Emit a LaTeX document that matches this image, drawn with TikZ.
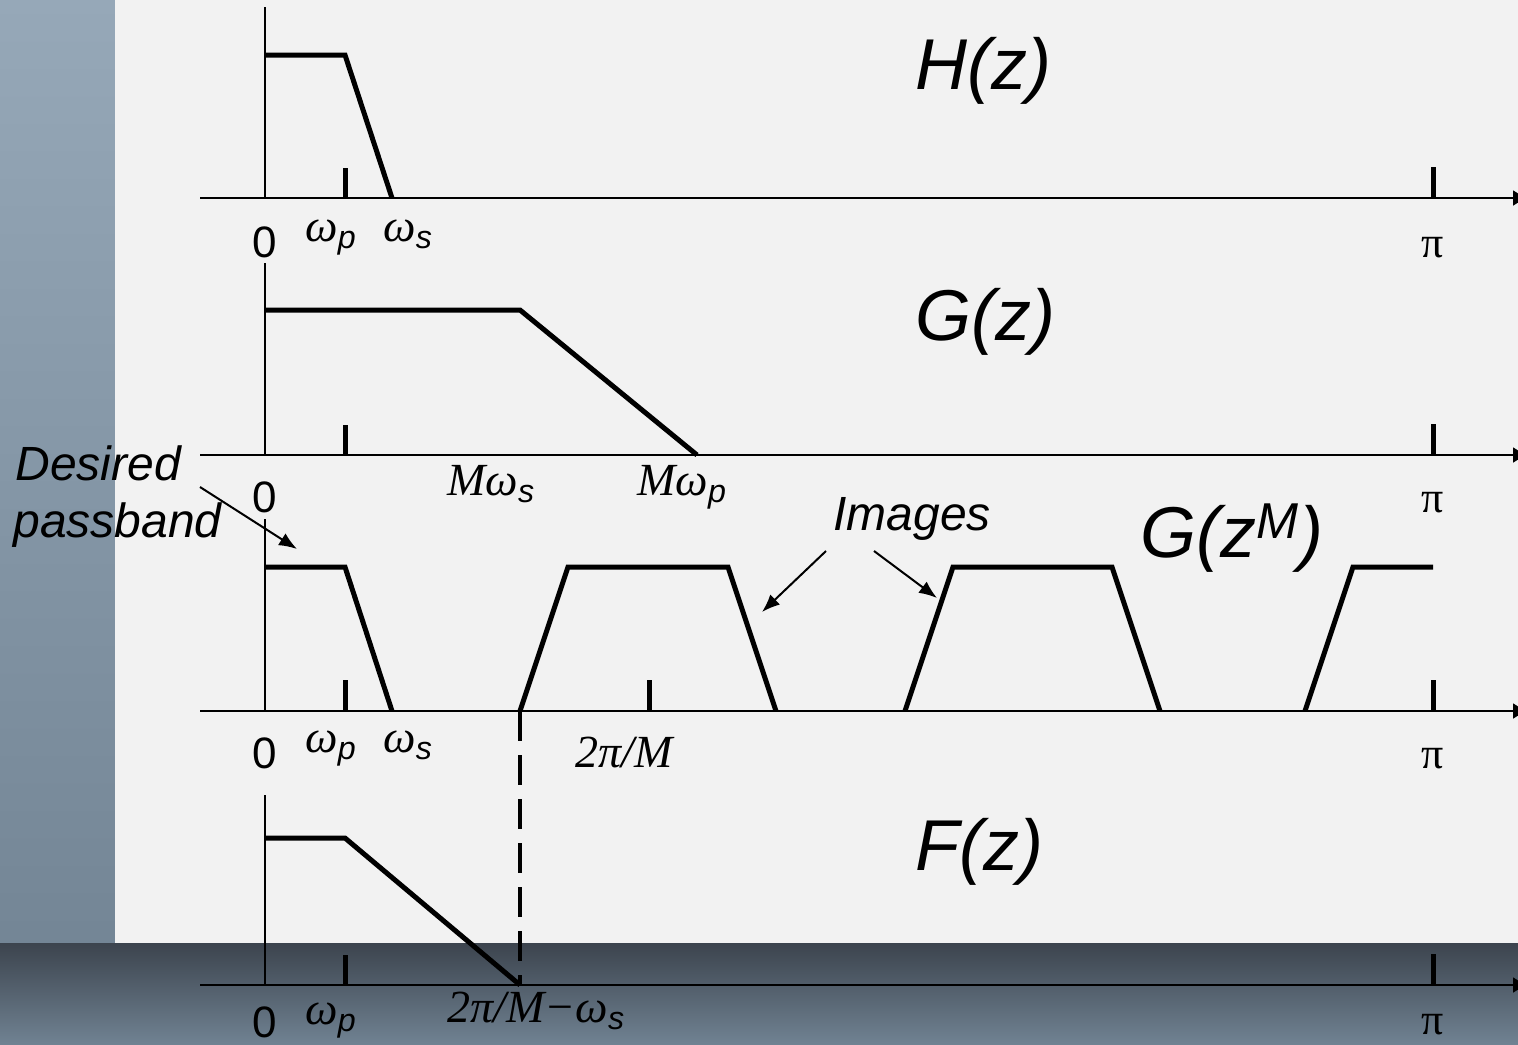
\documentclass[tikz,border=0pt]{standalone}
\usepackage{fontspec}
\setmainfont{Liberation Sans}
\newfontfamily\tmsfont{Liberation Serif}
\usepackage{tikz}
\usepackage{xcolor}
\usetikzlibrary{arrows.meta,positioning,calc}

\definecolor{bgtop}{RGB}{150,168,184}
\definecolor{bgbot}{RGB}{112,130,146}
\definecolor{shadowc}{RGB}{60,68,78}
\definecolor{panel}{RGB}{242,242,242}

\newcommand{\wsub}[1]{{\tmsfont\itshape ω}\textsubscript{\itshape #1}}
\newcommand{\piup}{{\tmsfont π}}

\begin{document}
\begin{tikzpicture}[
  x=0.5pt, y=-0.5pt,
  axis/.style={line width=1.25pt, -{Latex[length=8pt,width=8pt]}},
  yaxis/.style={line width=1.25pt},
  resp/.style={line width=2.5pt},
  tickmark/.style={line width=2.5pt},
  guide/.style={line width=2pt, dash pattern=on 15pt off 7pt},
  ann/.style={line width=1pt, -{Latex[length=9pt,width=7pt]}},
  lab/.style={inner sep=0pt, anchor=base, font=\fontsize{22}{26}\selectfont},
  wlab/.style={inner sep=0pt, anchor=base west, font=\fontsize{23}{27}\selectfont},
  ttl/.style={inner sep=0pt, anchor=base west, font=\itshape\fontsize{36}{42}\selectfont},
  note/.style={inner sep=0pt, anchor=base west, font=\itshape\fontsize{24}{28}\selectfont}
]
\useasboundingbox (0,0) rectangle (1518,1044);
\clip (0,0) rectangle (1518,1044);
\shade[top color=bgtop, bottom color=bgbot] (0,0) rectangle (1518,1044);
\shade[top color=shadowc, bottom color=bgbot] (0,943) rectangle (1518,1044);
\fill[panel] (115,0) rectangle (1518,943);

\draw[yaxis] (265,7) -- (265,198);
\draw[axis] (200,198) -- (1529,198);
\draw[tickmark] (345,168) -- (345,198);
\draw[tickmark] (1433,167) -- (1433,198);
\draw[resp] (265,55) -- (345,55) -- (392,198);
\node[lab] (zero1) at (265,257) {0};
\node[wlab] (wp1) at (305,241) {\wsub{p}};
\node[wlab] (ws1) at (383,241) {\wsub{s}};
\node[lab] (pi1) at (1433,257) {\piup};
\node[ttl] (ttlH) at (915,89) {H(z)};

\draw[yaxis] (265,263) -- (265,455);
\draw[axis] (200,455) -- (1529,455);
\draw[tickmark] (345,425) -- (345,455);
\draw[tickmark] (1433,424) -- (1433,455);
\draw[resp] (265,310) -- (520,310) -- (697,455);
\node[lab] (zero2) at (265,512) {0};
\node[wlab] (mws) at (447,495) {{\tmsfont\itshape Mω}\textsubscript{\itshape s}};
\node[wlab] (mwp) at (637,495) {{\tmsfont\itshape Mω}\textsubscript{\itshape p}};
\node[lab] (pi2) at (1433,512) {\piup};
\node[ttl] (ttlG) at (915,340) {G(z)};

\node[note] (desired) at (15,480) {Desired};
\node[note] (passband) at (13,537) {passband};
\coordinate (dp0) at (200,487);
\coordinate (dp1) at (297,549);
\draw[ann] (dp0) -- (dp1);

\draw[yaxis] (265,519) -- (265,711);
\draw[axis] (200,711) -- (1529,711);
\draw[tickmark] (345,680) -- (345,711);
\draw[tickmark] (649,680) -- (649,711);
\draw[tickmark] (1433,680) -- (1433,711);
\draw[resp] (265,567) -- (345,567) -- (392,711);
\draw[resp] (520,711) -- (568,567) -- (728,567) -- (776,711);
\draw[resp] (905,711) -- (953,567) -- (1112,567) -- (1160,711);
\draw[resp] (1305,711) -- (1353,567) -- (1433,567);
\node[lab] (zero3) at (265,768) {0};
\node[wlab] (wp3) at (305,752) {\wsub{p}};
\node[wlab] (ws3) at (383,752) {\wsub{s}};
\node[wlab] (twopiM) at (575,767) {{\tmsfont\itshape 2π/M}};
\node[lab] (pi3) at (1433,768) {\piup};
\node[ttl] (ttlGM) at (1140,557) {G(z\textsuperscript{M})};
\node[note] (images) at (833,530) {Images};
\coordinate (im0) at (826,551);
\coordinate (im1) at (762,612);
\coordinate (im2) at (874,551);
\coordinate (im3) at (937,598);
\draw[ann] (im0) -- (im1);
\draw[ann] (im2) -- (im3);

\draw[guide] (520,711) -- (520,985);

\draw[yaxis] (265,795) -- (265,985);
\draw[axis] (200,985) -- (1529,985);
\draw[tickmark] (345,955) -- (345,985);
\draw[tickmark] (1433,954) -- (1433,985);
\draw[resp] (265,838) -- (345,838) -- (520,985);
\node[lab] (zero4) at (265,1037) {0};
\node[wlab] (wp4) at (305,1024) {\wsub{p}};
\node[wlab] (edge4) at (447,1022) {{\tmsfont\itshape 2π/M−ω}\textsubscript{\itshape s}};
\node[lab] (pi4) at (1433,1034) {\piup};
\node[ttl] (ttlF) at (915,870) {F(z)};
\end{tikzpicture}
\end{document}
